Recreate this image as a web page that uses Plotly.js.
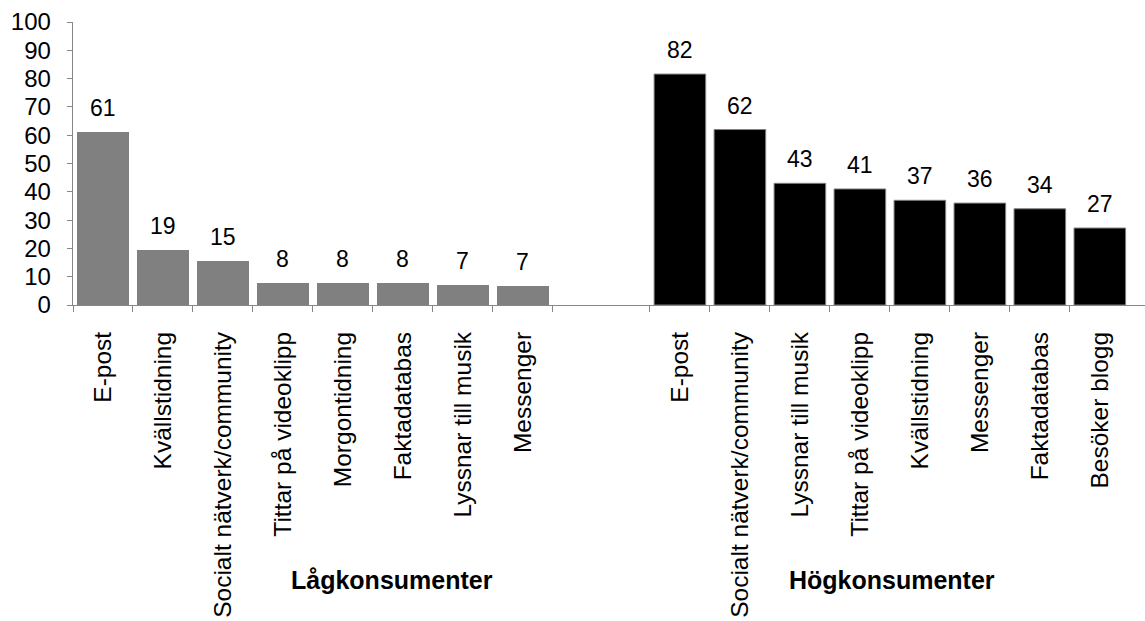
<!DOCTYPE html>
<html>
<head>
<meta charset="utf-8">
<script src="https://cdn.plot.ly/plotly-3.0.1.min.js"></script>
<style>html,body{margin:0;padding:0;background:#fff;}#chart{width:1145px;height:621px;}</style>
</head>
<body>
<div id="chart"></div>
<script>
// ---- data ----
const lowCategories = ["E-post", "Kvällstidning", "Socialt nätverk/community", "Tittar på videoklipp", "Morgontidning", "Faktadatabas", "Lyssnar till musik", "Messenger"];
const lowValues = [61.2, 19.4, 15.4, 7.8, 7.8, 7.8, 7.2, 6.6];
const highCategories = ["E-post", "Socialt nätverk/community", "Lyssnar till musik", "Tittar på videoklipp", "Kvällstidning", "Messenger", "Faktadatabas", "Besöker blogg"];
const highValues = [81.6, 62.0, 43.0, 41.0, 37.0, 36.0, 34.0, 27.2];
const groupNames = ["Lågkonsumenter", "Högkonsumenter"];
const yTickValues = [0, 10, 20, 30, 40, 50, 60, 70, 80, 90, 100];

// ---- layout helpers ----
const GAP = 1.617;               // empty space between the two groups (category units)
const lowX = lowCategories.map((_, i) => i);
const highX = highCategories.map((_, i) => lowCategories.length + GAP + i);
const boundaries = lowX.map(x => x - 0.5).concat([lowX[lowX.length - 1] + 0.5]).concat(highX.map(x => x - 0.5));
const xRange = [-0.5, 17.37];
const FONT = "Liberation Sans, Arial, Helvetica, sans-serif";
const AXIS_GRAY = "#868686";
const BAR_W = 0.86;

const traces = [
  {type: "bar", x: lowX, y: lowValues, xaxis: "x", yaxis: "y", width: BAR_W,
   marker: {color: "#808080", line: {width: 0}}, hoverinfo: "skip"},
  {type: "bar", x: highX, y: highValues, xaxis: "x2", yaxis: "y", width: BAR_W,
   marker: {color: "#000000", line: {width: 1, color: "#808080"}}, hoverinfo: "skip"}
];

const annotations = [];
lowX.forEach((x, i) => annotations.push({x: x, y: lowValues[i], xref: "x", yref: "y", text: String(Math.round(lowValues[i])),
  showarrow: false, yanchor: "bottom", yshift: 9, font: {family: FONT, size: 23, color: "#000"}}));
highX.forEach((x, i) => annotations.push({x: x, y: highValues[i], xref: "x2", yref: "y", text: String(Math.round(highValues[i])),
  showarrow: false, yanchor: "bottom", yshift: 9, font: {family: FONT, size: 23, color: "#000"}}));
const groupLabelX = [0.2976, 0.764];
groupNames.forEach((g, i) => annotations.push({x: groupLabelX[i], y: -0.972, xref: "paper", yref: "paper", text: "<b>" + g + "</b>",
  showarrow: false, xanchor: "center", yanchor: "middle", font: {family: FONT, size: 25, color: "#000"}}));

const layout = {
  width: 1145, height: 621,
  margin: {l: 73, r: 0, t: 22, b: 316, pad: 0},
  paper_bgcolor: "#fff", plot_bgcolor: "#fff",
  showlegend: false,
  font: {family: FONT, color: "#000"},
  xaxis: {range: xRange, showline: true, linecolor: AXIS_GRAY, linewidth: 1.3,
          ticks: "outside", ticklen: 6, tickcolor: AXIS_GRAY, tickwidth: 1,
          tickmode: "array", tickvals: boundaries, showticklabels: false,
          showgrid: false, zeroline: false, fixedrange: true},
  xaxis2: {overlaying: "x", anchor: "y", side: "bottom", range: xRange,
           tickmode: "array", tickvals: lowX.concat(highX), ticktext: lowCategories.concat(highCategories),
           tickangle: -90, ticks: "", showline: false, showgrid: false, zeroline: false,
           tickfont: {family: FONT, size: 24.5, color: "#000"}, ticklabelstandoff: 21, fixedrange: true},
  yaxis: {range: [0, 100], tickmode: "array", tickvals: yTickValues,
          showline: true, linecolor: AXIS_GRAY, linewidth: 1.3,
          ticks: "outside", ticklen: 5, tickcolor: AXIS_GRAY,
          showgrid: false, zeroline: false, ticklabelstandoff: 11,
          tickfont: {family: FONT, size: 24, color: "#000"}, fixedrange: true},
  annotations: annotations,
  bargap: 0
};

Plotly.newPlot("chart", traces, layout, {displayModeBar: false, staticPlot: true});
</script>
</body>
</html>
